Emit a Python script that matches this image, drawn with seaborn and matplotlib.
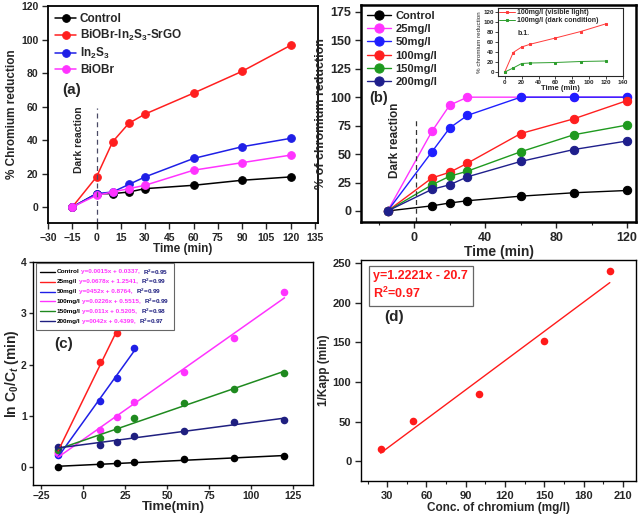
import matplotlib.pyplot as plt
import numpy as np
import pandas as pd
import seaborn as sns
from matplotlib.lines import Line2D
from matplotlib.offsetbox import AnchoredOffsetbox, DrawingArea, HPacker, TextArea, VPacker
from matplotlib.ticker import MultipleLocator

# (a) catalyst comparison
time_a = [-15, 0, 10, 20, 30, 60, 90, 120]
names_a = ["Control", r"BiOBr-In$_2$S$_3$-SrGO", r"In$_2$S$_3$", "BiOBr"]
control_a = [0, 8, 8, 9, 11, 13, 16, 18]
composite_a = [0, 18, 39, 50, 55.5, 68, 81, 96.5]
in2s3_a = [0, 8, 9, 13.5, 18, 29, 36, 41]
biobr_a = [0, 7, 9, 11, 13, 22, 26.5, 31]
colors_a = ["black", "#ff1f1f", "#1f1fe6", "#ff33ff"]

# (b) initial concentration
time_b = [-15, 10, 20, 30, 60, 90, 120]
names_b = ["Control", "25mg/l", "50mg/l", "100mg/l", "150mg/l", "200mg/l"]
control_b = [0, 4.5, 7, 9, 13, 16, 18]
c25_b = [0, 70, 93, 100, 100, 100, 100]
c50_b = [0, 52, 73, 84, 100, 100, 100]
c100_b = [0, 29, 34, 42, 68, 81, 97]
c150_b = [0, 23, 30.5, 35, 52, 67, 75.5]
c200_b = [0, 19, 23, 30, 43.5, 54, 61.5]
colors_b = ["black", "#ff33ff", "#1f1fff", "#ff1f1f", "#1f9a1f", "#1f1f8c"]

# (b.1) inset
time_in = [0, 10, 20, 30, 60, 90, 120]
visible_in = [0, 39, 50, 55.5, 68, 81, 96.5]
dark_in = [0, 8, 17, 18, 19, 21, 22]

# (c) kinetics ln C0/Ct
time_c = [-15, 10, 20, 30, 60, 90, 120]
control_c = [0, 0.05, 0.07, 0.10, 0.15, 0.18, 0.21]
c25_c = [0.30, 2.04, 2.62]
c50_c = [0.24, 1.28, 1.73, 2.33]
c100_c = [0.27, 0.72, 0.98, 1.27, 1.85, 2.52, 3.41]
c150_c = [0.33, 0.56, 0.74, 0.95, 1.24, 1.53, 1.83]
c200_c = [0.40, 0.44, 0.48, 0.60, 0.71, 0.87, 0.92]
colors_c = ["black", "#ff1f1f", "#1f1fe6", "#ff33ff", "#1f8a1f", "#1f1f80"]
eqs_c = ["y=0.0015x + 0.0337, ", "y=0.0678x + 1.2541, ", "y=0452x + 0.8764, ",
         "y=0.0226x + 0.5515, ", "y=0.011x + 0.5205, ", "y=0042x + 0.4399, "]
r2_c = ["0.95", "0.99", "0.99", "0.99", "0.98", "0.97"]

# (d) 1/Kapp vs concentration
conc_d = [25, 50, 100, 150, 200]
inv_k_d = [15, 51, 85, 152, 240]

sns.set_style("ticks")
plt.rcParams["font.family"] = ["Liberation Sans", "DejaVu Sans"]
plt.rcParams["font.weight"] = "bold"
plt.rcParams["axes.labelweight"] = "bold"
plt.rcParams["mathtext.fontset"] = "custom"
plt.rcParams["mathtext.rm"] = "Liberation Sans:bold"
plt.rcParams["mathtext.bf"] = "Liberation Sans:bold"
plt.rcParams["mathtext.it"] = "Liberation Sans:bold:italic"

W, H = 640, 515
fig = plt.figure(figsize=(6.4, 5.15), dpi=100)


def px_axes(left, top, right, bottom):
    return fig.add_axes([left / W, 1 - bottom / H, (right - left) / W, (bottom - top) / H])


def style_axes(ax, lw, fs, pad=3, length=4):
    for s in ax.spines.values():
        s.set_linewidth(lw)
        s.set_color("black")
    ax.tick_params(which="major", direction="out", length=length, width=1, labelsize=fs, pad=pad)
    ax.tick_params(which="minor", direction="out", length=2.5, width=0.8)


# ---------- (a)
ax = px_axes(48, 6, 318, 223)
for name, vals, col in zip(names_a, [control_a, composite_a, in2s3_a, biobr_a], colors_a):
    sns.lineplot(x=time_a, y=vals, ax=ax, color=col, marker="o", markersize=5.5,
                 markeredgecolor=col, linewidth=1.1, label=name)
ax.axvline(0, ymin=0, ymax=0.53, color="#4a4a66", lw=0.9, dashes=(4, 3))
ax.text(-11, 40, "Dark reaction", rotation=90, ha="center", va="center", fontsize=7.5)
ax.text(-15.5, 70, "(a)", ha="center", va="center", fontsize=11)
ax.set_xlim(-30, 137)
ax.set_ylim(-9.5, 120)
ax.set_xticks(np.arange(-30, 136, 15))
ax.set_yticks(np.arange(0, 121, 20))
ax.set_xlabel("Time (min)", fontsize=8.5, labelpad=0)
ax.set_ylabel("% Chromium reduction", fontsize=8.5, labelpad=2)
ax.legend(loc="upper left", frameon=False, fontsize=8.5, handlelength=1.8,
          handletextpad=0.3, labelspacing=0.25, borderaxespad=0.2)
style_axes(ax, 1.3, 7.5)

# ---------- (b)
ax = px_axes(361, 5, 636, 222)
for name, vals, col in zip(names_b, [control_b, c25_b, c50_b, c100_b, c150_b, c200_b], colors_b):
    sns.lineplot(x=time_b, y=vals, ax=ax, color=col, marker="o", markersize=6,
                 markeredgecolor=col, linewidth=1.0, label=name)
ax.axvline(1, ymin=0, ymax=0.47, color="#333333", lw=0.9, dashes=(4, 3))
ax.text(-11, 62, "Dark reaction", rotation=90, ha="center", va="center", fontsize=8.5)
ax.text(-20, 99, "(b)", ha="center", va="center", fontsize=10.5)
ax.set_xlim(-30, 125)
ax.set_ylim(-9.7, 181)
ax.set_xticks([0, 40, 80, 120])
ax.xaxis.set_minor_locator(MultipleLocator(20))
ax.set_yticks(np.arange(0, 176, 25))
ax.set_xlabel("Time (min)", fontsize=10, labelpad=1)
ax.set_ylabel("% of chromium reduction", fontsize=9, labelpad=2)
ax.legend(loc="upper left", frameon=False, fontsize=8, handlelength=2.2,
          handletextpad=0.4, labelspacing=0.3, borderaxespad=0.1, markerscale=1.1)
style_axes(ax, 1.8, 9)

# ---------- (b.1) inset
axi = px_axes(498, 8, 623, 76)
sns.lineplot(x=time_in, y=visible_in, ax=axi, color="#ff3b3b", marker="s", markersize=2,
             markeredgecolor="#ff3b3b", linewidth=0.7, label="100mg/l (visible light)")
sns.lineplot(x=time_in, y=dark_in, ax=axi, color="#2e9e2e", marker="s", markersize=2,
             markeredgecolor="#2e9e2e", linewidth=0.7, label="100mg/l (dark condition)")
axi.text(0.16, 0.62, "b.1.", transform=axi.transAxes, fontsize=5, va="center")
axi.set_xlim(-8, 140)
axi.set_ylim(-8, 128)
axi.set_xticks(np.arange(0, 141, 20))
axi.set_yticks(np.arange(0, 121, 20))
axi.set_xlabel("Time (min)", fontsize=5.5, labelpad=0)
axi.set_ylabel("% chromium reduction", fontsize=4.5, labelpad=1, fontweight="normal")
axi.legend(loc="upper left", frameon=False, fontsize=5, handlelength=2.2,
           handletextpad=0.4, labelspacing=0.1, borderaxespad=0.0, borderpad=0.2)
for s in axi.spines.values():
    s.set_linewidth(0.8)
axi.tick_params(direction="out", length=2, width=0.6, labelsize=4.5, pad=1)

# ---------- (c)
ax = px_axes(33, 262, 313, 485)
series_c = [control_c, c25_c, c50_c, c100_c, c150_c, c200_c]
for vals, col in zip(series_c, colors_c):
    sns.regplot(x=time_c[:len(vals)], y=vals, ax=ax, ci=None, color=col,
                scatter_kws={"s": 30, "alpha": 1, "linewidths": 0},
                line_kws={"lw": 1.1})
ax.text(-12, 2.4, "(c)", ha="center", va="center", fontsize=11)
ax.set_xlim(-30, 137)
ax.set_ylim(-0.35, 4)
ax.set_xticks(np.arange(-25, 126, 25))
ax.set_yticks(np.arange(0, 5, 1))
ax.set_xlabel("Time(min)", fontsize=9.5, labelpad=0)
ax.set_ylabel(r"ln C$_0$/C$_t$ (min)", fontsize=10, labelpad=0)
style_axes(ax, 1.0, 7.5, pad=1.5, length=3)

rows = []
for name, col, eq, r2 in zip(names_b, colors_c, eqs_c, r2_c):
    da = DrawingArea(11, 4, 0, 0)
    da.add_artist(Line2D([0, 11], [2, 2], color=col, lw=1.0))
    rows.append(HPacker(children=[
        da,
        TextArea(name, textprops=dict(fontsize=4.6, color="black")),
        TextArea(eq, textprops=dict(fontsize=4.6, color="#ff33ff")),
        TextArea(r"R$^2$=" + r2, textprops=dict(fontsize=4.6, color="#1f1f80")),
    ], sep=1.2, pad=0, align="center"))
box = AnchoredOffsetbox(loc="upper left", child=VPacker(children=rows, sep=0.4, pad=0),
                        bbox_to_anchor=(0.01, 0.995), bbox_transform=ax.transAxes,
                        frameon=True, pad=0.3, borderpad=0)
box.patch.set_edgecolor("#666666")
box.patch.set_linewidth(0.8)
ax.add_artist(box)

# ---------- (d)
ax = px_axes(361, 260, 636, 481)
sns.regplot(x=conc_d, y=inv_k_d, ax=ax, ci=None, color="#ff1a1a",
            scatter_kws={"s": 30, "alpha": 1, "linewidths": 0}, line_kws={"lw": 1.0})
ax.text(35, 182, "(d)", ha="center", va="center", fontsize=11)
ax.text(0.045, 0.955, "y=1.2221x - 20.7\n" + r"R$^2$=0.97", transform=ax.transAxes,
        ha="left", va="top", color="#ff1a1a", fontsize=9, linespacing=1.35,
        bbox=dict(boxstyle="square,pad=0.35", fc="white", ec="#666666", lw=0.9))
ax.set_xlim(10, 220)
ax.set_ylim(-25, 254)
ax.set_xticks(np.arange(30, 211, 30))
ax.xaxis.set_minor_locator(MultipleLocator(15))
ax.set_yticks(np.arange(0, 251, 50))
ax.set_xlabel("Conc. of chromium (mg/l)", fontsize=8.5, labelpad=1)
ax.set_ylabel("1/Kapp (min)", fontsize=8.5, labelpad=2)
style_axes(ax, 1.0, 8)

fig.savefig("out.png", dpi=100)
